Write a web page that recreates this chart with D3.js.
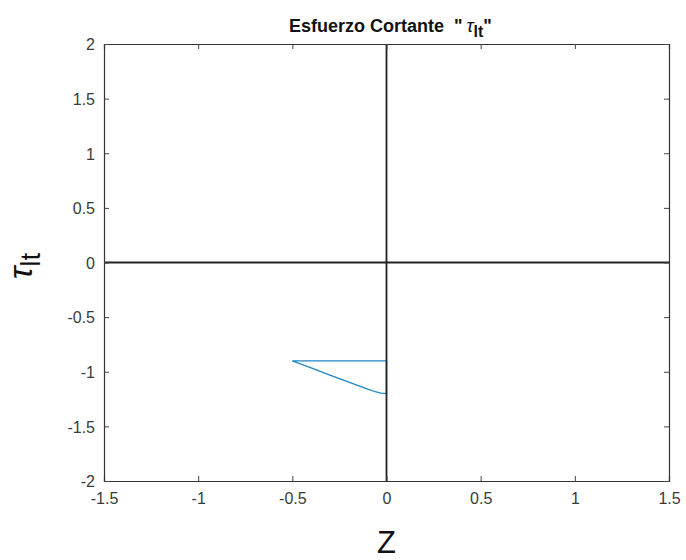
<!DOCTYPE html>
<html><head><meta charset="utf-8">
<script src="https://cdn.jsdelivr.net/npm/d3@7"></script>
<style>body{margin:0;background:#fff}svg{display:block;font-family:"Liberation Sans",Arial,sans-serif}</style>
</head><body>
<svg id="c" width="686" height="560"></svg>
<script>
const zVals   = [0, -0.5, -0.4, -0.3, -0.2, -0.1, -0.06, -0.03, 0, 0];
const tauVals = [-0.9, -0.9, -0.965, -1.03, -1.094, -1.159, -1.183, -1.196, -1.2, -0.9];
const xTicks = [-1.5, -1, -0.5, 0, 0.5, 1, 1.5];
const yTicks = [-2, -1.5, -1, -0.5, 0, 0.5, 1, 1.5, 2];
const xDomain = [-1.5, 1.5], yDomain = [-2, 2];

const svg = d3.select("#c");
const L = 104, R = 669, T = 44, B = 481;
const x = d3.scaleLinear().domain(xDomain).range([L, R]);
const y = d3.scaleLinear().domain(yDomain).range([B, T]);
const fmt = d => String(d);

// data line
svg.append("path")
  .datum(zVals.map((z, i) => [z, tauVals[i]]))
  .attr("d", d3.line().x(d => x(d[0])).y(d => y(d[1])))
  .attr("fill", "none").attr("stroke", "#1f86c6").attr("stroke-width", 1.3);

// zero lines
svg.append("line").attr("x1", x(0)).attr("x2", x(0)).attr("y1", T).attr("y2", B)
  .attr("stroke", "#222").attr("stroke-width", 1.8);
svg.append("line").attr("x1", L).attr("x2", R).attr("y1", y(0)).attr("y2", y(0))
  .attr("stroke", "#222").attr("stroke-width", 1.8);

// axes
const tl = 5;
const axB = svg.append("g").attr("transform", `translate(0,${B})`)
  .call(d3.axisBottom(x).tickValues(xTicks).tickSize(-tl).tickPadding(12).tickFormat(fmt));
const axT = svg.append("g").attr("transform", `translate(0,${T})`)
  .call(d3.axisTop(x).tickValues(xTicks).tickSize(-tl).tickFormat(""));
const axL = svg.append("g").attr("transform", `translate(${L},0)`)
  .call(d3.axisLeft(y).tickValues(yTicks).tickSize(-tl).tickPadding(9).tickFormat(fmt));
const axR = svg.append("g").attr("transform", `translate(${R},0)`)
  .call(d3.axisRight(y).tickValues(yTicks).tickSize(-tl).tickFormat(""));
[axB, axT, axL, axR].forEach(a => {
  a.selectAll(".domain").attr("stroke", "#333").attr("stroke-width", 1.2);
  a.selectAll(".tick line").attr("stroke", "#444").attr("stroke-width", 1);
  a.selectAll("text").attr("fill", "#3a3a3a").attr("font-size", 16)
    .attr("font-family", "'Liberation Sans', Arial, sans-serif");
});
axL.selectAll("text").attr("dy", "0.36em");

// title
const title = svg.append("text").attr("x", (L + R) / 2 + 4).attr("y", 32)
  .attr("text-anchor", "middle").attr("font-size", 18).attr("font-weight", "bold").attr("fill", "#111")
  .attr("xml:space", "preserve").style("white-space", "pre");
title.append("tspan").text("Esfuerzo Cortante\u00a0\u00a0\"");
title.append("tspan").attr("font-style", "italic").attr("font-weight", "normal").attr("font-size", 19).text("\u2009τ");
title.append("tspan").attr("font-size", 16).attr("dy", 5).text("lt");
title.append("tspan").attr("dy", -5).text("\"");

// x label
svg.append("text").attr("x", x(0)).attr("y", 553).attr("text-anchor", "middle")
  .attr("font-size", 31).attr("fill", "#111").text("Z");

// y label
const yl = svg.append("text").attr("transform", "translate(32,266) rotate(-90)")
  .attr("text-anchor", "middle").attr("fill", "#111");
yl.append("tspan").attr("font-size", 34).attr("font-style", "italic").text("τ");
yl.append("tspan").attr("font-size", 28).attr("dy", 8).text("lt");
</script>
</body></html>
